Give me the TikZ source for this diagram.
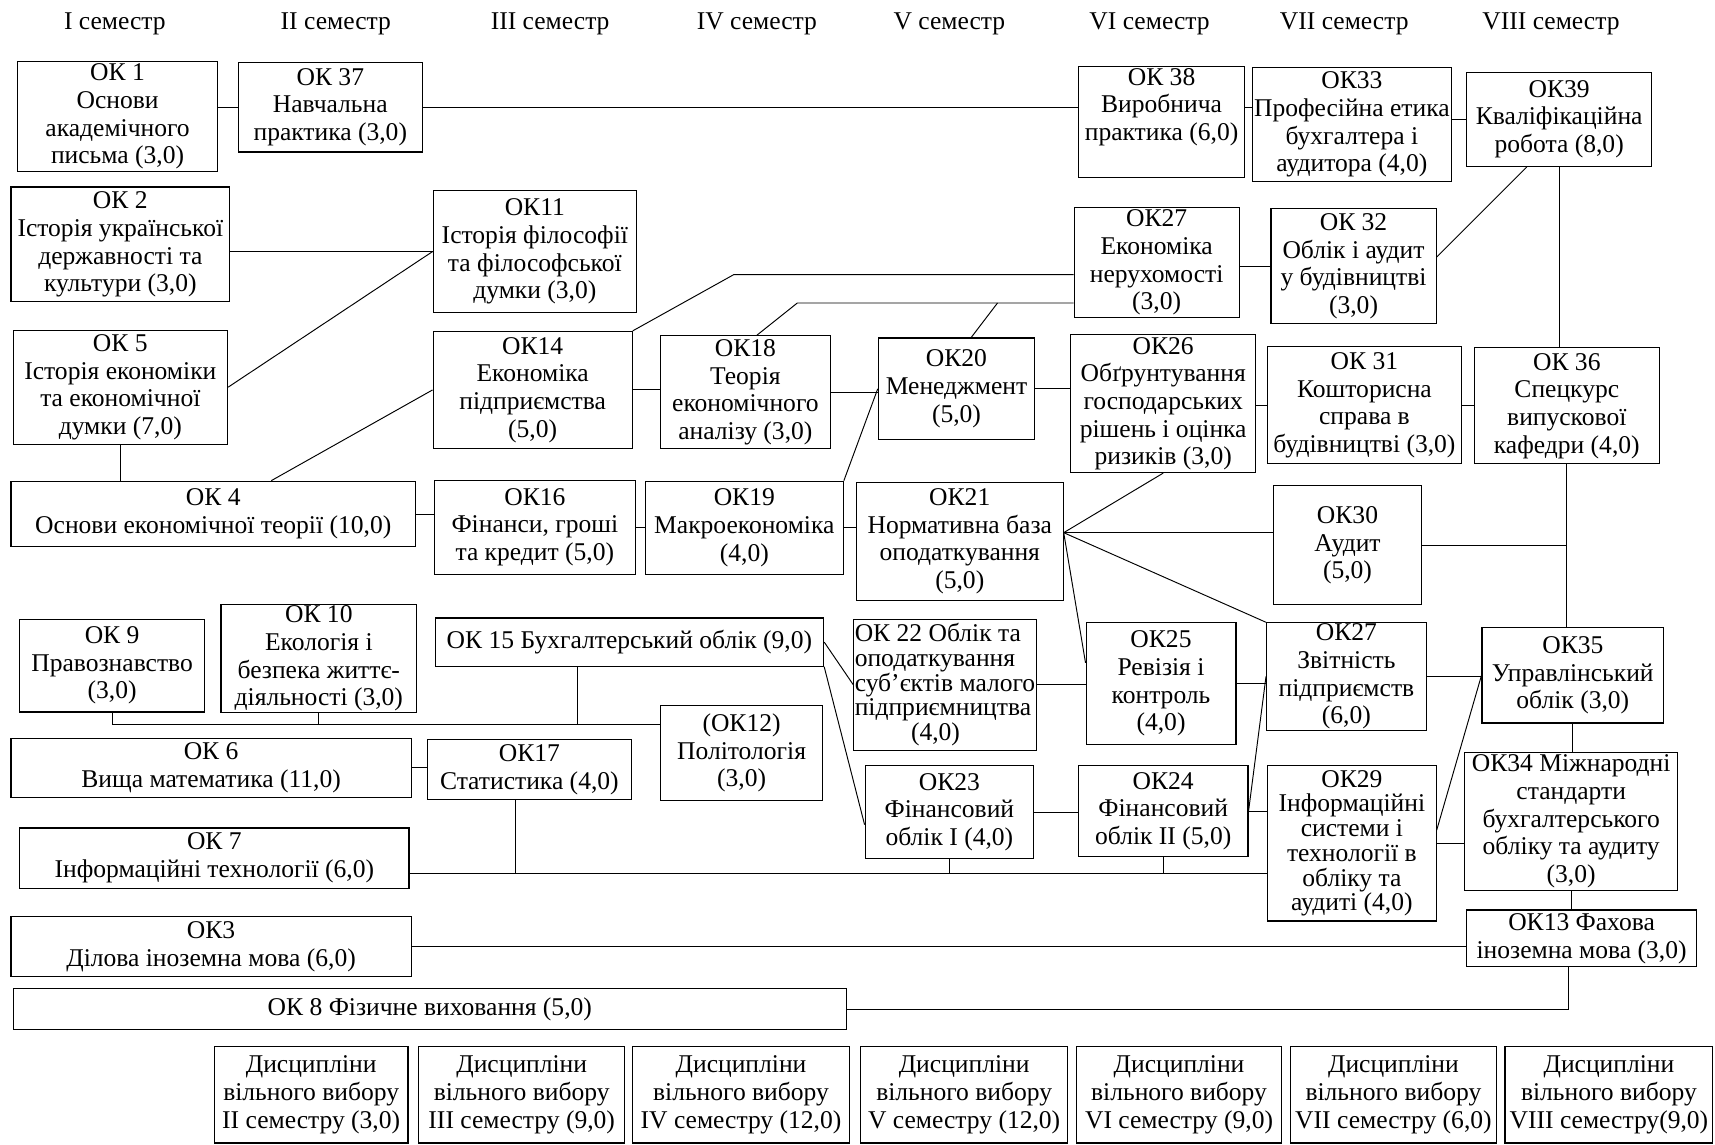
\documentclass[tikz,border=0pt]{standalone}
\usepackage{fontspec}
\setmainfont{Liberation Serif}
\usepackage{tikz}
\tikzstyle{course} = [rectangle, draw=black, line width=0.6pt, inner sep=0.5pt, align=center, font=\fontsize{13.3}{14.4}\selectfont]
\tikzstyle{tight} = [font=\fontsize{13.3}{12.9}\selectfont]
\tikzstyle{heading} = [font=\fontsize{13.3}{14}\selectfont]
\tikzstyle{link} = [line width=0.5pt]
\tikzset{boxsize/.style 2 args={minimum width=#1*0.02cm, minimum height=#2*0.02cm}}

\begin{document}
\begin{tikzpicture}[x=0.02cm, y=-0.02cm]
	\useasboundingbox (0,0) rectangle (1568,1046);

	% semesters
	\node (sem1) [heading] at (105,22) {I семестр};
	\node (sem2) [heading] at (307,22) {II семестр};
	\node (sem3) [heading] at (503,22) {III семестр};
	\node (sem4) [heading] at (692,22) {IV семестр};
	\node (sem5) [heading] at (868,22) {V семестр};
	\node (sem6) [heading] at (1051,22) {VI семестр};
	\node (sem7) [heading] at (1229,22) {VII семестр};
	\node (sem8) [heading] at (1418,22) {VIII семестр};

	% courses
	\node (ok1) [course, boxsize={183}{101}] at (107.5,106.5) {ОК 1\\Основи\\академічного\\письма (3,0)};
	\node (ok37) [course, boxsize={168}{82}] at (302,98) {ОК 37\\Навчальна\\практика (3,0)};
	\node (ok38) [course, boxsize={152}{101}] at (1062,111.5) {ОК 38\\Виробнича\\практика (6,0)\\[4pt]};
	\node (ok33) [course, boxsize={182}{104}] at (1236,114) {ОК33\\Професійна етика\\бухгалтера і\\аудитора (4,0)};
	\node (ok39) [course, boxsize={169}{86}] at (1425.5,109) {ОК39\\Кваліфікаційна\\робота (8,0)};
	\node (ok2) [course, boxsize={200}{105}] at (110,223.5) {ОК 2\\Історія української\\державності та\\культури (3,0)};
	\node (ok11) [course, boxsize={186}{112}] at (489,230) {ОК11\\Історія філософії\\та філософської\\думки (3,0)};
	\node (ok27n) [course, boxsize={151}{100}] at (1057.5,240) {ОК27\\Економіка\\нерухомості\\(3,0)};
	\node (ok32) [course, boxsize={151}{105}] at (1237.5,243.5) {ОК 32\\Облік і аудит\\у будівництві\\(3,0)};
	\node (ok5) [course, boxsize={196}{104}] at (110,354) {ОК 5\\Історія економіки\\та економічної\\думки (7,0)};
	\node (ok14) [course, boxsize={182}{107}] at (487,356.5) {ОК14\\Економіка\\підприємства\\(5,0)};
	\node (ok18) [course, boxsize={155}{103}] at (681.5,358.5) {ОК18\\Теорія\\економічного\\аналізу (3,0)};
	\node (ok20) [course, boxsize={143}{93}] at (874.5,355.5) {ОК20\\Менеджмент\\(5,0)};
	\node (ok26) [course, boxsize={169}{126}] at (1063.5,369) {ОК26\\Обґрунтування\\господарських\\рішень і оцінка\\ризиків (3,0)};
	\node (ok31) [course, boxsize={177}{107}] at (1247.5,370.5) {ОК 31\\Кошторисна\\справа в\\будівництві (3,0)};
	\node (ok36) [course, boxsize={169}{106}] at (1432.5,371) {ОК 36\\Спецкурс\\випускової\\кафедри (4,0)};
	\node (ok4) [course, boxsize={370}{60}] at (195,470) {ОК 4\\Основи економічної теорії (10,0)};
	\node (ok16) [course, boxsize={184}{86}] at (489,482) {ОК16\\Фінанси, гроші\\та кредит (5,0)};
	\node (ok19) [course, boxsize={181}{85}] at (680.5,482.5) {ОК19\\Макроекономіка\\(4,0)};
	\node (ok21) [course, boxsize={189}{108}] at (877.5,495) {ОК21\\Нормативна база\\оподаткування\\(5,0)};
	\node (ok30) [course, boxsize={136}{109}] at (1232,498.5) {ОК30\\Аудит\\(5,0)};
	\node (ok9) [course, boxsize={169}{85}] at (102.5,608.5) {ОК 9\\Правознавство\\(3,0)};
	\node (ok10) [course, boxsize={179}{98}] at (291.5,602) {ОК 10\\Екологія і\\безпека життє-\\діяльності (3,0)};
	\node (ok15) [course, boxsize={355}{44}] at (575.5,587) {ОК 15 Бухгалтерський облік (9,0)};
	\node (ok22) [course, tight, boxsize={162}{120}, align=left] at (864,626) {ОК 22 Облік та\\оподаткування\\суб'єктів малого\\підприємництва\\\hspace*{2.2em}(4,0)};
	\node (ok25) [course, boxsize={137}{112}] at (1061.5,625) {ОК25\\Ревізія і\\контроль\\(4,0)};
	\node (ok27z) [course, boxsize={146}{95}] at (1231,618.5) {ОК27\\Звітність\\підприємств\\(6,0)};
	\node (ok35) [course, boxsize={166}{87}] at (1438,617.5) {ОК35\\Управлінський\\облік (3,0)};
	\node (ok12) [course, boxsize={148}{87}] at (678,688.5) {(ОК12)\\Політологія\\(3,0)};
	\node (ok6) [course, boxsize={366}{54}] at (193,702) {ОК 6\\Вища математика (11,0)};
	\node (ok17) [course, boxsize={186}{55}] at (484,703.5) {ОК17\\Статистика (4,0)};
	\node (ok23) [course, boxsize={154}{85}] at (868,742.5) {ОК23\\Фінансовий\\облік І (4,0)};
	\node (ok24) [course, boxsize={155}{83}] at (1063.5,741.5) {ОК24\\Фінансовий\\облік ІІ (5,0)};
	\node (ok29) [course, tight, boxsize={154}{142}] at (1236,771) {ОК29\\Інформаційні\\системи і\\технології в\\обліку та\\аудиті (4,0)};
	\node (ok34) [course, boxsize={195}{126}] at (1436.5,751) {ОК34 Міжнародні\\стандарти\\бухгалтерського\\обліку та аудиту\\(3,0)};
	\node (ok7) [course, boxsize={356}{55}] at (196,784.5) {ОК 7\\Інформаційні технології (6,0)};
	\node (ok3) [course, boxsize={366}{55}] at (193,865.5) {ОК3\\Ділова іноземна мова (6,0)};
	\node (ok13) [course, boxsize={210}{52}] at (1446,858) {ОК13 Фахова\\іноземна мова (3,0)};
	\node (ok8) [course, boxsize={762}{37}] at (393,922.5) {ОК 8 Фізичне виховання (5,0)};

	% free choice
	\node (el2) [course, boxsize={177}{88}] at (284.5,1001) {Дисципліни\\вільного вибору\\ІІ семестру (3,0)};
	\node (el3) [course, boxsize={188}{88}] at (477,1001) {Дисципліни\\вільного вибору\\ІІІ семестру (9,0)};
	\node (el4) [course, boxsize={199}{88}] at (677.5,1001) {Дисципліни\\вільного вибору\\IV семестру (12,0)};
	\node (el5) [course, boxsize={189}{88}] at (881.5,1001) {Дисципліни\\вільного вибору\\V семестру (12,0)};
	\node (el6) [course, boxsize={188}{88}] at (1078,1001) {Дисципліни\\вільного вибору\\VI семестру (9,0)};
	\node (el7) [course, boxsize={188}{88}] at (1274,1001) {Дисципліни\\вільного вибору\\VII семестру (6,0)};
	\node (el8) [course, boxsize={190}{88}] at (1471,1001) {Дисципліни\\вільного вибору\\VIII семестру(9,0)};

	\coordinate (kink1) at (671,251);
	\coordinate (kink2) at (729,277);
	\coordinate (kink3) at (912,277);
	\coordinate (fan) at ([yshift=0.16cm]ok21.east);
	\coordinate (bus1) at ([yshift=0.53cm]ok12.west);
	\coordinate (bus2) at ([yshift=-0.29cm]ok7.east);

	% links
	\draw [link] (ok1.east |- ok37.west) -- (ok37.west);
	\draw [link] (ok37.east) -- (ok38.west |- ok37.east);
	\draw [link] (ok38.east |- ok37.east) -- (ok33.west |- ok37.east);
	\draw [link] (ok33.east |- ok39.west) -- (ok39.west);
	\draw [link] (ok2.east |- ok11.west) -- (ok11.west);
	\draw [link] (ok5.east) -- (ok11.west);
	\draw [link] (ok5.south) -- (ok5.south |- ok4.north);
	\draw [link] ([xshift=1.06cm]ok4.north) -- (ok14.west);
	\draw [link] (ok4.east) -- (ok16.west |- ok4.east);
	\draw [link] (ok14.north east) -- (kink1) -- (kink1 -| ok27n.west);
	\draw [link] ([xshift=0.21cm]ok18.north) -- (kink2) -- (kink2 -| ok27n.west);
	\draw [link] ([xshift=0.27cm]ok20.north) -- (kink3);
	\draw [link] (ok27n.east |- ok32.west) -- (ok32.west);
	\draw [link] ([yshift=0.17cm]ok32.east) -- ([xshift=-0.59cm]ok39.south);
	\draw [link] (ok39.south) -- (ok39.south |- ok36.north);
	\draw [link] (ok14.east) -- (ok18.west |- ok14.east);
	\draw [link] (ok18.east) -- (ok20.west |- ok18.east);
	\draw [link] (ok20.east) -- (ok26.west |- ok20.east);
	\draw [link] (ok26.east |- ok31.west) -- (ok31.west);
	\draw [link] (ok31.east) -- (ok36.west |- ok31.east);
	\draw [link] (ok16.east) -- (ok19.west |- ok16.east);
	\draw [link] (ok19.north east) -- (ok20.west);
	\draw [link] (ok19.east) -- (ok21.west |- ok19.east);
	\draw [link] (fan) -- (fan -| ok30.west);
	\draw [link] (fan) -- (ok26.south);
	\draw [link] (fan) -- (ok27z.north west);
	\draw [link] (fan) -- ([yshift=0.38cm]ok25.west);
	\draw [link] (ok30.east) -- (ok30.east -| ok36.south);
	\draw [link] (ok36.south) -- (ok36.south |- ok35.north);
	\draw [link] (ok22.east) -- (ok25.west |- ok22.east);
	\draw [link] (ok25.east) -- (ok27z.west |- ok25.east);
	\draw [link] (ok27z.east) -- (ok35.west |- ok27z.east);
	\draw [link] (ok15.east) -- (ok22.west);
	\draw [link] (ok15.south east) -- ([yshift=-0.23cm]ok23.west);
	\draw [link] (ok9.south) |- (bus1);
	\draw [link] (ok10.south) -- (ok10.south |- bus1);
	\draw [link] ([xshift=-0.95cm]ok15.south) -- ([xshift=-0.95cm]ok15.south |- bus1);
	\draw [link] (ok6.east) -- (ok17.west |- ok6.east);
	\draw [link] (bus2) -- (bus2 -| ok29.west);
	\draw [link] ([xshift=-0.26cm]ok17.south) -- ([xshift=-0.26cm]ok17.south |- bus2);
	\draw [link] (ok23.south) -- (ok23.south |- bus2);
	\draw [link] (ok24.south) -- (ok24.south |- bus2);
	\draw [link] (ok23.east) -- (ok24.west |- ok23.east);
	\draw [link] (ok24.east) -- (ok29.west |- ok24.east);
	\draw [link] (ok24.east) -- (ok27z.west);
	\draw [link] ([yshift=0.24cm]ok29.east) -- (ok35.west);
	\draw [link] (ok29.east) -- (ok34.west |- ok29.east);
	\draw [link] (ok35.south) -- (ok35.south |- ok34.north);
	\draw [link] (ok34.south) -- (ok34.south |- ok13.north);
	\draw [link] (ok3.east) -- (ok13.west |- ok3.east);
	\draw [link] ([xshift=-0.24cm]ok13.south) |- (ok8.east);
\end{tikzpicture}
\end{document}
